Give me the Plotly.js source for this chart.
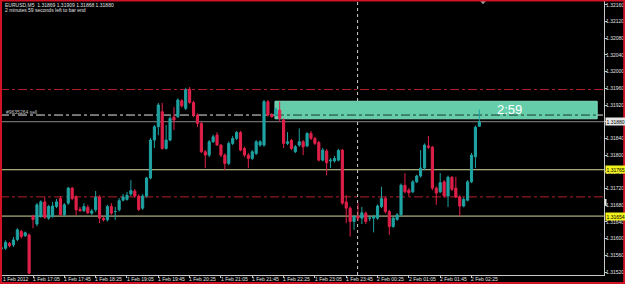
<!DOCTYPE html>
<html>
<head>
<meta charset="utf-8">
<script src="https://cdn.plot.ly/plotly-3.0.1.min.js"></script>
<style>
  html, body { margin: 0; padding: 0; background: #000; }
  #chart { width: 625px; height: 284px; }
</style>
</head>
<body>
<div id="chart"></div>
<script>
// ---- data (EURUSD, M5) ----
const timeLabels = ["1 Feb 2012","1 Feb 17:05","1 Feb 17:45","1 Feb 18:25","1 Feb 19:05","1 Feb 19:45",
  "1 Feb 20:25","1 Feb 21:05","1 Feb 21:45","1 Feb 22:25","1 Feb 23:05","1 Feb 23:45",
  "2 Feb 00:25","2 Feb 01:05","2 Feb 01:45","2 Feb 02:25"];
const barsPerLabel = 8;

const openP = [1.31577,1.31577,1.31589,1.31585,1.31598,1.31617,1.31607,1.31609,1.31653,1.31635,
1.31653,1.31688,1.31649,1.31653,1.31677,1.31696,1.31657,1.31685,1.31721,1.31700,
1.31670,1.31667,1.31675,1.31661,1.31669,1.31700,1.31649,1.31645,1.31677,1.31665,
1.31669,1.31692,1.31694,1.31707,1.31714,1.31702,1.31673,1.31702,1.31745,1.31836,
1.31868,1.31904,1.31816,1.31836,1.31891,1.31892,1.31930,1.31912,1.31958,1.31926,
1.31896,1.31876,1.31808,1.31800,1.31832,1.31848,1.31824,1.31800,1.31780,1.31828,
1.31840,1.31854,1.31816,1.31800,1.31792,1.31804,1.31824,1.31824,1.31928,1.31896,
1.31896,1.31908,1.31884,1.31828,1.31835,1.31808,1.31824,1.31832,1.31822,1.31852,
1.31840,1.31830,1.31788,1.31810,1.31786,1.31786,1.31788,1.31812,1.31688,1.31673,
1.31641,1.31653,1.31649,1.31661,1.31649,1.31649,1.31649,1.31677,1.31696,1.31665,
1.31629,1.31646,1.31657,1.31728,1.31716,1.31712,1.31736,1.31750,1.31769,1.31822,
1.31819,1.31721,1.31712,1.31736,1.31702,1.31747,1.31721,1.31700,1.31678,1.31692,
1.31736,1.31796,1.31869];

const highP = [1.31581,1.31596,1.31592,1.31604,1.31625,1.31621,1.31617,1.31612,1.31657,1.31685,
1.31692,1.31700,1.31681,1.31688,1.31695,1.31702,1.31685,1.31724,1.31724,1.31704,
1.31676,1.31685,1.31681,1.31671,1.31714,1.31704,1.31653,1.31681,1.31685,1.31676,
1.31697,1.31707,1.31712,1.31740,1.31719,1.31706,1.31707,1.31748,1.31841,1.31872,
1.31925,1.31925,1.31872,1.31893,1.31915,1.31936,1.31934,1.31961,1.31963,1.31930,
1.31900,1.31879,1.31812,1.31836,1.31849,1.31855,1.31827,1.31804,1.31833,1.31846,
1.31858,1.31858,1.31820,1.31805,1.31812,1.31836,1.31836,1.31932,1.31932,1.31901,
1.31914,1.31928,1.31888,1.31855,1.31839,1.31824,1.31864,1.31836,1.31855,1.31858,
1.31844,1.31834,1.31817,1.31815,1.31793,1.31798,1.31815,1.31815,1.31704,1.31677,
1.31657,1.31685,1.31676,1.31665,1.31655,1.31657,1.31682,1.31724,1.31700,1.31669,
1.31653,1.31661,1.31732,1.31757,1.31721,1.31740,1.31753,1.31812,1.31828,1.31846,
1.31822,1.31725,1.31757,1.31740,1.31751,1.31750,1.31748,1.31704,1.31699,1.31740,
1.31805,1.31871,1.31909];

const lowP = [1.31573,1.31573,1.31579,1.31580,1.31594,1.31600,1.31604,1.31515,1.31625,1.31630,
1.31650,1.31647,1.31645,1.31650,1.31673,1.31655,1.31653,1.31681,1.31692,1.31655,
1.31664,1.31664,1.31659,1.31657,1.31664,1.31637,1.31641,1.31641,1.31657,1.31645,
1.31665,1.31689,1.31691,1.31702,1.31698,1.31666,1.31669,1.31698,1.31742,1.31817,
1.31848,1.31813,1.31813,1.31833,1.31860,1.31889,1.31914,1.31908,1.31923,1.31891,
1.31867,1.31805,1.31769,1.31795,1.31829,1.31823,1.31795,1.31764,1.31776,1.31824,
1.31836,1.31809,1.31795,1.31769,1.31788,1.31800,1.31820,1.31820,1.31892,1.31889,
1.31892,1.31880,1.31817,1.31824,1.31812,1.31805,1.31820,1.31800,1.31819,1.31836,
1.31824,1.31785,1.31785,1.31752,1.31769,1.31782,1.31785,1.31681,1.31637,1.31605,
1.31621,1.31642,1.31635,1.31635,1.31642,1.31615,1.31645,1.31673,1.31660,1.31609,
1.31626,1.31643,1.31653,1.31709,1.31702,1.31709,1.31733,1.31746,1.31764,1.31815,
1.31716,1.31681,1.31709,1.31698,1.31676,1.31714,1.31697,1.31654,1.31675,1.31689,
1.31733,1.31769,1.31868];

const closeP = [1.31577,1.31591,1.31583,1.31597,1.31621,1.31605,1.31614,1.31517,1.31646,1.31681,
1.31688,1.31651,1.31677,1.31678,1.31688,1.31657,1.31681,1.31721,1.31696,1.31669,
1.31667,1.31677,1.31662,1.31666,1.31699,1.31649,1.31645,1.31677,1.31661,1.31665,
1.31691,1.31700,1.31704,1.31715,1.31702,1.31670,1.31702,1.31745,1.31836,1.31868,
1.31920,1.31816,1.31836,1.31888,1.31884,1.31932,1.31918,1.31956,1.31926,1.31896,
1.31876,1.31808,1.31800,1.31832,1.31844,1.31824,1.31800,1.31780,1.31828,1.31840,
1.31854,1.31812,1.31800,1.31792,1.31808,1.31832,1.31832,1.31928,1.31896,1.31892,
1.31910,1.31888,1.31828,1.31832,1.31816,1.31820,1.31832,1.31820,1.31852,1.31840,
1.31828,1.31788,1.31812,1.31782,1.31788,1.31792,1.31811,1.31685,1.31673,1.31641,
1.31653,1.31649,1.31662,1.31641,1.31649,1.31653,1.31678,1.31696,1.31665,1.31629,
1.31649,1.31657,1.31728,1.31712,1.31710,1.31736,1.31750,1.31769,1.31824,1.31819,
1.31721,1.31709,1.31734,1.31702,1.31747,1.31718,1.31700,1.31678,1.31694,1.31736,
1.31800,1.31867,1.31880];

const priceTicks = [1.31520,1.31560,1.31600,1.31640,1.31680,1.31720,1.31760,1.31800,1.31840,
  1.31880,1.31920,1.31960,1.32000,1.32040,1.32080,1.32120,1.32160];

// horizontal levels
const redLevels = [1.31957, 1.31700];
const yellowLevels = [1.31765, 1.31654];
const orderPrice = 1.31896;
const bidPrice = 1.31880;
const orderLabel = "#9635264 sell";
const headerLine1 = "EURUSD,M5  1.31869 1.31909 1.31868 1.31880";
const headerLine2 = "2 minutes 59 seconds left to bar end";
const timerText = "2:59";
const rectBox = {x0: 69.8, x1: 152.1, y0: 1.31887, y1: 1.31929};
const vLineBar = 90.9;

// ---- plot ----
const xIdx = openP.map((_, i) => i);
const tickIdx = timeLabels.map((_, i) => i * barsPerLabel);

const W = 625, H = 284, mL = 0, mR = 21, mT = 0, mB = 9;
const plotW = W - mL - mR, plotH = H - mT - mB;
const px = v => v / plotW;           // paper x from pixel
const py = v => 1 - v / plotH;       // paper y from pixel

const trace = {
  type: 'candlestick',
  x: xIdx, open: openP, high: highP, low: lowP, close: closeP,
  increasing: {line: {color: '#1fa2a2', width: 1}, fillcolor: '#1fa2a2'},
  decreasing: {line: {color: '#e0204a', width: 1}, fillcolor: '#e0204a'},
  whiskerwidth: 0,
  hoverinfo: 'skip',
  showlegend: false
};

const shapes = [];
shapes.push({type: 'rect', xref: 'x', yref: 'y', x0: rectBox.x0, x1: rectBox.x1, y0: rectBox.y0, y1: rectBox.y1,
  fillcolor: '#66cdaa', line: {color: '#7fdcbc', width: 1}, layer: 'below'});
redLevels.forEach(p => shapes.push({type: 'line', xref: 'paper', yref: 'y', x0: 0, x1: 1, y0: p, y1: p,
  line: {color: '#b3202c', width: 1, dash: 'dashdot'}, layer: 'below'}));
yellowLevels.forEach(p => shapes.push({type: 'line', xref: 'paper', yref: 'y', x0: 0, x1: 1, y0: p, y1: p,
  line: {color: '#d8d8a0', width: 1}, layer: 'below'}));
shapes.push({type: 'line', xref: 'paper', yref: 'y', x0: 0, x1: 1, y0: bidPrice, y1: bidPrice,
  line: {color: '#8a8a8a', width: 1}, layer: 'below'});
shapes.push({type: 'line', xref: 'paper', yref: 'y', x0: 0, x1: 1, y0: orderPrice, y1: orderPrice,
  line: {color: '#e6e6e6', width: 1, dash: 'dashdot'}, layer: 'below'});
shapes.push({type: 'line', xref: 'x', yref: 'y', x0: rectBox.x0, x1: rectBox.x1, y0: orderPrice, y1: orderPrice,
  line: {color: '#1a3a30', width: 1, dash: 'dashdot'}, layer: 'below'});
shapes.push({type: 'line', xref: 'x', yref: 'paper', x0: vLineBar, x1: vLineBar, y0: 0, y1: 1,
  line: {color: '#d0d0d0', width: 1, dash: 'dot'}, layer: 'below'});
shapes.push({type: 'path', xref: 'paper', yref: 'paper',
  path: `M ${px(479.5)} ${py(0)} L ${px(486.5)} ${py(0)} L ${px(483)} ${py(4)} Z`,
  fillcolor: '#9a9a9a', line: {color: '#9a9a9a', width: 0.5}});
shapes.push({type: 'rect', xref: 'paper', yref: 'paper', x0: px(604.5), x1: px(606.5), y0: py(205), y1: py(199),
  fillcolor: '#e0e0e0', line: {width: 0}});
// red window frame
shapes.push({type: 'rect', xref: 'paper', yref: 'paper', x0: px(1), x1: px(624.2), y0: py(283), y1: py(0.5),
  line: {color: '#d01426', width: 2}, fillcolor: 'rgba(0,0,0,0)'});

const f5 = {family: 'Liberation Sans, Arial, sans-serif', size: 5, color: '#e0e0e0'};
const annotations = [
  {xref: 'paper', yref: 'paper', x: px(3), y: py(5), xanchor: 'left', yanchor: 'middle', showarrow: false,
   text: headerLine1, font: f5},
  {xref: 'paper', yref: 'paper', x: px(3), y: py(9.5), xanchor: 'left', yanchor: 'middle', showarrow: false,
   text: headerLine2, font: f5},
  {xref: 'paper', yref: 'y', x: px(4), y: orderPrice, yshift: 3.5, xanchor: 'left', yanchor: 'middle', showarrow: false,
   text: orderLabel, font: Object.assign({}, f5, {color: '#c0c0c0'})},
  {xref: 'x', yref: 'y', x: 129.8, y: (rectBox.y0 + rectBox.y1) / 2 + 0.00001, xanchor: 'center', yanchor: 'middle',
   showarrow: false, text: timerText, font: {family: 'Liberation Sans, Arial, sans-serif', size: 13, color: '#ffffff'}},
  {xref: 'paper', yref: 'y', x: px(605), y: bidPrice, xanchor: 'left', yanchor: 'middle', showarrow: false,
   text: bidPrice.toFixed(5), font: Object.assign({}, f5, {color: '#000'}), bgcolor: '#e8e8e8', borderpad: 0.5},
  ...yellowLevels.map(p => ({xref: 'paper', yref: 'y', x: px(605), y: p, xanchor: 'left', yanchor: 'middle',
   showarrow: false, text: p.toFixed(5), font: Object.assign({}, f5, {color: '#000'}), bgcolor: '#f2f21c', borderpad: 0.5})),
  // time-axis labels, left-aligned at their ticks as in MetaTrader
  ...timeLabels.map((t, i) => ({xref: 'x', yref: 'paper', x: tickIdx[i], y: py(279), xanchor: 'left', yanchor: 'middle',
   xshift: i === 0 ? 0.5 : -1.2, showarrow: false, text: t, font: f5, borderpad: 0}))
];

const layout = {
  width: W, height: H,
  margin: {l: mL, r: mR, t: mT, b: mB, pad: 0},
  paper_bgcolor: '#000', plot_bgcolor: '#000',
  boxgap: 0.22,
  showlegend: false,
  xaxis: {
    range: [-0.434, 153.84], type: 'linear',
    rangeslider: {visible: false},
    showgrid: false, zeroline: false,
    showline: true, linecolor: '#c8c8c8', linewidth: 1,
    tickmode: 'array', tickvals: tickIdx, ticktext: timeLabels,
    showticklabels: false,
    ticks: 'outside', ticklen: 2, tickcolor: '#c8c8c8', tickwidth: 1,
    fixedrange: true
  },
  yaxis: {
    side: 'right',
    range: [1.315129, 1.321715],
    showgrid: false, zeroline: false,
    showline: true, linecolor: '#c8c8c8', linewidth: 1,
    tickmode: 'array', tickvals: priceTicks, ticktext: priceTicks.map(v => v.toFixed(5)),
    ticks: 'outside', ticklen: 2, tickcolor: '#c8c8c8', tickwidth: 1,
    ticklabelstandoff: -2,
    tickfont: f5, fixedrange: true
  },
  shapes: shapes,
  annotations: annotations
};

Plotly.newPlot('chart', [trace], layout, {staticPlot: true, displayModeBar: false});
</script>
</body>
</html>
